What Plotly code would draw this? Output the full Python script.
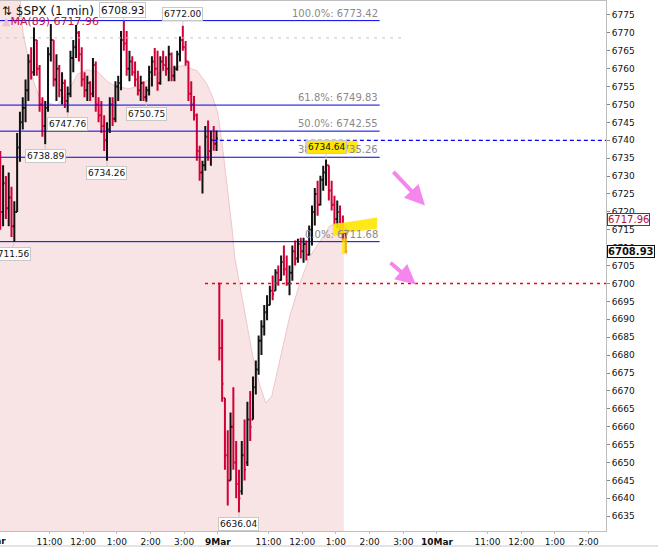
import plotly.graph_objects as go

# $SPX 1-min chart, read off as 5-minute OHLC bars
# 6 Mar: full session 9:30-16:00 (78 bars)
mar6_open = [6732, 6720, 6728, 6721, 6724, 6716, 6720, 6738, 6745, 6749,
             6754, 6762, 6759, 6768, 6760, 6750, 6744, 6749, 6764, 6768,
             6757, 6760, 6754, 6756, 6751, 6753, 6763, 6766, 6770, 6764,
             6757, 6754, 6756, 6753, 6761, 6750, 6747, 6744, 6740, 6743,
             6750, 6746, 6755, 6756, 6768, 6767, 6760, 6762, 6759, 6757,
             6754, 6756, 6752, 6754, 6759, 6762, 6760, 6756, 6762, 6761,
             6760, 6764, 6758, 6760, 6764, 6768, 6766, 6762, 6753, 6750,
             6747, 6737, 6731, 6733, 6741, 6737, 6740, 6739]
mar6_high = [6737, 6733, 6730, 6731, 6727, 6723, 6742, 6748, 6752, 6757,
             6764, 6766, 6771.5, 6768, 6761, 6752, 6751, 6766, 6772.5, 6768,
             6764, 6761, 6759, 6757, 6755, 6765, 6768, 6772.2, 6770.5, 6766,
             6759, 6758, 6756.5, 6763, 6762, 6752, 6751, 6747, 6745, 6752,
             6752, 6756.5, 6758, 6770.5, 6773.42, 6770.5, 6765, 6763.5, 6762, 6759.4,
             6758, 6756.5, 6755, 6760.8, 6763.5, 6765.8, 6765, 6763.5, 6765, 6763.5,
             6766.4, 6764.5, 6760.8, 6765, 6769, 6772.0, 6767.7, 6762, 6756.5, 6752.4,
             6747.5, 6738.5, 6734.3, 6744, 6745.5, 6742.7, 6744, 6742.7]
mar6_low = [6715, 6716, 6718, 6716, 6713, 6711.56, 6720, 6734, 6743, 6745,
            6751, 6757, 6758, 6758, 6748, 6741, 6738.89, 6748, 6762, 6755,
            6751, 6752, 6750, 6749, 6747.76, 6752, 6759, 6763, 6762, 6755,
            6752, 6751, 6751, 6752, 6748, 6745, 6742, 6737, 6734.26, 6742,
            6744, 6745, 6751, 6754, 6765, 6758, 6756.5, 6758, 6755, 6752.5,
            6751, 6751, 6750.75, 6752.5, 6755, 6758, 6753.8, 6755.5, 6759.4, 6758,
            6756.5, 6756.5, 6756.5, 6759.4, 6762, 6765, 6760.8, 6751, 6748.2, 6745.5,
            6734.3, 6728.7, 6725.1, 6731.5, 6734.3, 6732.9, 6737.1, 6737]
mar6_close = [6720, 6728, 6721, 6724, 6716, 6720, 6738, 6745, 6749, 6754,
              6762, 6759, 6768, 6760, 6750, 6744, 6749, 6764, 6768, 6757,
              6760, 6754, 6756, 6751, 6753, 6763, 6766, 6770, 6764, 6757,
              6754, 6756, 6753, 6761, 6750, 6747, 6744, 6740, 6743, 6750,
              6746, 6755, 6756, 6768, 6767, 6760, 6762, 6759, 6757, 6754,
              6756, 6752, 6754, 6759, 6762, 6760, 6756, 6762, 6761, 6760,
              6764, 6758, 6760, 6764, 6768, 6766, 6762, 6753, 6750, 6747,
              6737, 6731, 6733, 6741, 6737, 6740, 6739, 6740.5]

# 9 Mar: 9:30 to about 1:20pm (46 bars)
mar9_open = [6700, 6682, 6668, 6652, 6645, 6660, 6650, 6644, 6642, 6652,
             6650, 6662, 6662, 6671, 6676, 6684, 6688, 6692, 6694, 6698,
             6698, 6703, 6701, 6706, 6704, 6700, 6703, 6709, 6707, 6711,
             6709, 6711, 6708, 6715, 6720, 6725, 6722, 6729, 6731, 6733,
             6726, 6722, 6718, 6720, 6716, 6714]
mar9_high = [6700.2, 6690, 6668, 6659, 6664, 6671, 6656, 6648, 6656, 6662,
             6667, 6670, 6674, 6678.5, 6685.5, 6689.7, 6694, 6696.7, 6699.4, 6702.2,
             6704, 6705, 6707.8, 6710.6, 6707.8, 6705, 6710.6, 6712, 6712.5, 6712.8,
             6712.8, 6712, 6716.2, 6721.8, 6726.7, 6728.7, 6730.1, 6732.9, 6734.64, 6733,
             6728.7, 6724.5, 6723.2, 6721.8, 6719, 6715.4]
mar9_low = [6678.5, 6667, 6648, 6638, 6645, 6648, 6640, 6636.04, 6641, 6645,
            6649, 6656, 6662, 6669, 6674.5, 6680, 6685.5, 6689.7, 6693.9, 6695.3,
            6698, 6699.4, 6700.8, 6702.2, 6699.4, 6696.7, 6700.8, 6705, 6705.8, 6707,
            6705.8, 6706.4, 6707.8, 6710.6, 6716.2, 6718.9, 6721.8, 6725.9, 6727.3, 6723.2,
            6720.4, 6716.2, 6715.4, 6714.2, 6712, 6708.5]
mar9_close = [6682, 6672, 6652, 6645, 6660, 6650, 6644, 6640, 6652, 6648,
              6662, 6660, 6671, 6676, 6684, 6688, 6692, 6694, 6698, 6697,
              6703, 6701, 6706, 6704, 6700, 6703, 6709, 6707, 6711, 6709,
              6711, 6708, 6715, 6720, 6725, 6722, 6729, 6731, 6733, 6726,
              6722, 6718, 6720, 6716, 6714, 6708.93]

# MA(89), minutes from the 9 Mar open (trading time only)
ma_minutes = [-390, -362, -352, -347, -335, -328, -317, -305, -287, -267,
              -250, -232, -214, -196, -180, -157, -134, -109, -85, -62,
              -37, -20, -9, 0, 9, 18, 25, 30, 39, 50,
              62, 75, 85, 96, 105, 118, 128, 146, 164, 182,
              199, 224]
ma_values = [6790, 6786, 6779, 6770, 6761.1, 6756.3, 6751.6, 6750.7, 6749.6, 6753.5,
             6758.5, 6759.7, 6759.1, 6756.3, 6754.9, 6754.4, 6755.8, 6758.5, 6760.2, 6760.8,
             6759.4, 6755.8, 6751.9, 6747.5, 6737.1, 6725.9, 6715.6, 6707.3, 6699.4, 6689.7,
             6679.7, 6671.4, 6666.6, 6668.6, 6675, 6683.9, 6690.9, 6700.1, 6707.6, 6711.8,
             6716, 6717.96]

fib_names = ["100.0%", "61.8%", "50.0%", "38.2%", "0.0%"]
fib_levels = [6773.42, 6749.83, 6742.55, 6735.26, 6711.68]

tick_minutes = [-300, -240, -180, -120, -60, 0, 90, 150, 210, 270, 330,
                390, 480, 540, 600, 660]
tick_labels = ["11:00", "12:00", "1:00", "2:00", "3:00", "<b>9Mar</b>",
               "11:00", "12:00", "1:00", "2:00", "3:00", "<b>10Mar</b>",
               "11:00", "12:00", "1:00", "2:00"]

# marked highs/lows: (day, bar index, price, label above the bar)
callouts = [("mar6", 65, 6772.00, True), ("mar6", 24, 6747.76, False),
            ("mar6", 16, 6738.89, False), ("mar6", 38, 6734.26, False),
            ("mar6", 52, 6750.75, False), ("mar6", 5, 6711.56, False),
            ("mar9", 7, 6636.04, False), ("mar9", 38, 6734.64, True)]

last_price = 6708.93
ma_last = 6717.96

BAR = 5
day_start = {"mar6": -390, "mar9": 0}
y_range = [6630.87, 6778.9]


def bar_x(day, n):
    return [day_start[day] + BAR * i + BAR / 2 for i in range(n)]


x_all = bar_x("mar6", len(mar6_open)) + bar_x("mar9", len(mar9_open))

fig = go.Figure()

fig.add_trace(go.Scatter(
    x=ma_minutes, y=ma_values, mode="lines", fill="tozeroy",
    fillcolor="#f8e4e4", line=dict(color="#efc6cb", width=1),
    hoverinfo="skip"))

# bars on an overlaid axis so they sit on top of the MA fill
fig.add_trace(go.Ohlc(
    x=x_all, yaxis="y2",
    open=mar6_open + mar9_open, high=mar6_high + mar9_high,
    low=mar6_low + mar9_low, close=mar6_close + mar9_close,
    increasing=dict(line=dict(color="#111111", width=2)),
    decreasing=dict(line=dict(color="#d10036", width=2)),
    tickwidth=0.5))

font = "DejaVu Sans"

# fib retracement lines + labels
for name, lvl in zip(fib_names, fib_levels):
    fig.add_shape(type="line", xref="x", yref="y", x0=-420, x1=288, y0=lvl, y1=lvl,
                  line=dict(color="#0000e6", width=1))
    fig.add_annotation(x=288, y=lvl, text=f"{name}: {lvl:.2f}", showarrow=False,
                       xanchor="right", yanchor="bottom",
                       font=dict(family=font, size=10, color="#8a8a8a"))

fig.add_shape(type="line", x0=-420, x1=330, y0=6768.6, y1=6768.6,
              line=dict(color="#c4c4c4", width=1, dash="3px,5px"))
fig.add_shape(type="line", x0=-9, x1=720, y0=6740, y1=6740,
              line=dict(color="#0000ff", width=1.2, dash="4px,3px"))
fig.add_shape(type="line", x0=-23, x1=720, y0=6700, y1=6700,
              line=dict(color="#ff0000", width=1.5, dash="3px,4px"))

# panel border under the time axis
fig.add_shape(type="line", xref="paper", yref="paper", x0=0, x1=1.086,
              y0=-0.0283, y1=-0.0283, line=dict(color="#c8c8c8", width=1))

# yellow highlighter marks
fig.add_shape(type="rect", x0=155, x1=249, y0=6736.5, y1=6739.9,
              fillcolor="#ffe600", line_width=0, opacity=0.9)
fig.add_shape(type="path",
              path="M 204.8,6716.7 L 226.2,6717.0 L 283.2,6718.4 L 283.2,6715.3 "
                   "L 228.0,6714.2 L 204.8,6713.1 Z",
              fillcolor="#ffe600", line_width=0, opacity=0.9)
fig.add_shape(type="rect", x0=220.8, x1=229.7, y0=6708.2, y1=6712.6,
              fillcolor="#ffe600", line_width=0, opacity=0.75)

# high / low callouts
for day, idx, price, above in callouts:
    fig.add_annotation(
        x=bar_x(day, idx + 1)[idx], y=price, text=f"{price:.2f}",
        showarrow=True, arrowhead=0, arrowwidth=1, arrowcolor="#c8c8c8",
        ax=-4 if price == 6711.56 else 0, ay=-12 if above else 12,
        bgcolor="#ffe600" if price == 6734.64 else "white",
        bordercolor="#c8c8c8", borderwidth=1, borderpad=1,
        font=dict(family=font, size=9, color="#111"))

# day high under the title (its box shows the last price)
fig.add_annotation(x=bar_x("mar6", 45)[44], y=6773.42, text=f"{last_price:.2f}",
                   showarrow=True, arrowhead=0, arrowwidth=1, arrowcolor="#c8c8c8",
                   ax=-1, ay=-11, bgcolor="white", bordercolor="#c8c8c8",
                   borderwidth=1, borderpad=1,
                   font=dict(family=font, size=10.5, color="#111"))

# title lines
fig.add_annotation(xref="paper", yref="paper", x=0, y=1, xanchor="left", yanchor="top",
                   text="⇅ $SPX (1 min)", showarrow=False, xshift=0, yshift=-1,
                   font=dict(family=font, size=12, color="#111"))
fig.add_annotation(xref="paper", yref="paper", x=0, y=0.962, xanchor="left",
                   yanchor="middle", showarrow=False, xshift=0,
                   text=f'<span style="color:#f0c2c8">▲</span>MA(89) {ma_last:.2f}',
                   font=dict(family=font, size=11, color="#c8103c"))

# last values on the price axis
fig.add_annotation(xref="paper", x=1, y=ma_last, xanchor="left", showarrow=False,
                   xshift=1, text=f"{ma_last:.2f}", bgcolor="white",
                   bordercolor="#b01040", borderwidth=1, borderpad=0,
                   font=dict(family=font, size=10, color="#b01040"))
fig.add_annotation(xref="paper", x=1, y=last_price, xanchor="left", showarrow=False,
                   xshift=1, text=f"<b>{last_price:.2f}</b>", bgcolor="white",
                   bordercolor="#111", borderwidth=1, borderpad=0,
                   font=dict(family=font, size=10, color="#111"))

# pink hand-drawn arrows
fig.add_annotation(x=368.7, y=6721.8, ax=-33, ay=-35, showarrow=True, text="",
                   arrowhead=2, arrowsize=1, arrowwidth=4, arrowcolor="#f586ee")
fig.add_annotation(x=352.6, y=6699.7, ax=-27, ay=-23, showarrow=True, text="",
                   arrowhead=2, arrowsize=1, arrowwidth=4, arrowcolor="#f586ee")

# cut-off day label at the left edge
fig.add_annotation(xref="paper", x=0, yref="paper", y=0, xanchor="center",
                   yanchor="top", xshift=-7, yshift=-3,
                   text="<b>6Mar</b>", showarrow=False,
                   font=dict(family=font, size=9, color="#111"))

fig.update_layout(
    width=658, height=548,
    margin=dict(l=0, r=52, t=1, b=17),
    plot_bgcolor="white", paper_bgcolor="white",
    showlegend=False,
    xaxis=dict(range=[-388, 691], tickvals=tick_minutes, ticktext=tick_labels,
               showgrid=False, zeroline=False, showline=True, linecolor="#bdbdbd",
               mirror=True, ticks="outside", ticklen=2, tickcolor="#bdbdbd",
               tickfont=dict(family=font, size=9, color="#111"),
               rangeslider=dict(visible=False)),
    yaxis=dict(side="right", range=y_range, tick0=6635, dtick=5,
               showgrid=False, zeroline=False, showline=True, linecolor="#bdbdbd",
               ticks="outside", ticklen=3, tickcolor="#888",
               tickfont=dict(family=font, size=9, color="#111")),
    yaxis2=dict(overlaying="y", side="right", range=y_range, visible=False),
)

fig.write_html("out.html", config={"displayModeBar": False},
               post_script="document.body.style.margin='0';")
